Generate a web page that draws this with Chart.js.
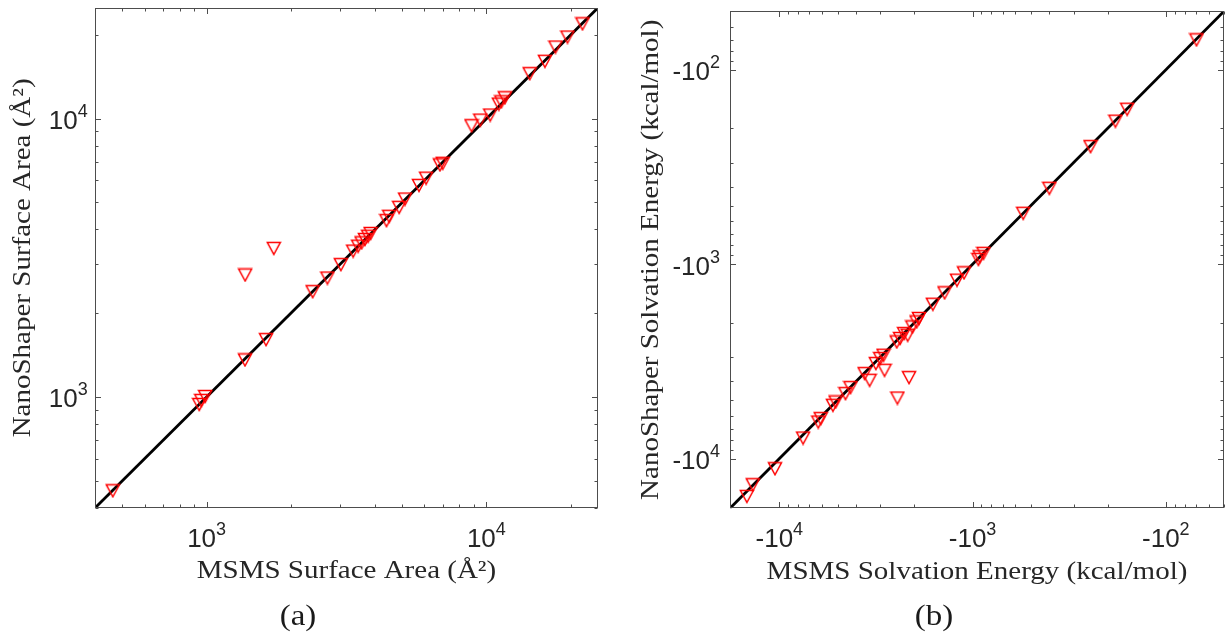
<!DOCTYPE html>
<html>
<head>
<meta charset="utf-8">
<title>MSMS vs NanoShaper</title>
<script src="https://cdn.jsdelivr.net/npm/chart.js@4.4.1/dist/chart.umd.min.js"></script>
<style>
  html, body { margin: 0; padding: 0; background: #ffffff; overflow: hidden; }
  #wrap { position: relative; width: 1225px; height: 637px; overflow: hidden; }
  #wrap canvas { position: absolute; top: 0; }
  #chartA { left: 0; }
  #chartB { left: 612px; }
</style>
</head>
<body>
<div id="wrap">
  <canvas id="chartA" width="612" height="637"></canvas>
  <canvas id="chartB" width="620" height="637"></canvas>
</div>
<script>
// ---- (a) molecular surface area, Å^2 ----
const msmsArea = [462, 941, 957, 988, 1371, 1631, 1373, 1738, 2393, 2703, 3018, 3341,
  3481, 3580, 3679, 3780, 3856, 4395, 4495, 4877, 5120, 5741, 6088, 6822, 6980,
  8850, 9510, 10320, 11080, 11310, 11640, 14290, 16190, 17660, 19490, 22050];
const nanoArea = [460, 940, 972, 1004, 1359, 1608, 2744, 3419, 2391, 2676, 2991, 3344,
  3484, 3580, 3681, 3783, 3869, 4305, 4461, 4804, 5145, 5759, 6115, 6828, 6918,
  9440, 9890, 10310, 11290, 11500, 11890, 14520, 16090, 18100, 19660, 21930];
const areaTicks = [1e3, 1e4];
const areaRange = [400, 25000];

// ---- (b) solvation energy, kcal/mol ----
const msmsEnergy = [-69.4, -158.5, -182.3, -245.3, -400.7, -547, -878, -919, -933,
  -1107, -1204, -1396, -1605, -1894, -1949, -2050, -2168, -2262, -2371, -2469,
  -2889, -3005, -3166, -2856, -3618, -3411, -2133, -2449, -4284, -4546, -5117,
  -5283, -6109, -6285, -7535, -10530, -13720, -14730];
const nanoEnergy = [-70.1, -159.4, -183.7, -248.3, -406.7, -547, -879, -915, -944,
  -1107, -1207, -1403, -1605, -1900, -1979, -2100, -2317, -2271, -2409, -2508,
  -2938, -3054, -3242, -3510, -3650, -3952, -3827, -4875, -4308, -4627, -5111,
  -5315, -6223, -6479, -7832, -11260, -13610, -15640];
const energyTicks = [-1e4, -1e3, -1e2];
const energyRange = [-18000, -50];

// ---- styling ----
const AXIS_COLOR = '#4d4d4d';
const LABEL_COLOR = '#262626';
const SANS = '"Liberation Sans", Arial, Helvetica, sans-serif';
const SERIF = '"Liberation Serif", "Times New Roman", serif';
const TICK_FONT = 26, SUP_FONT = 18, SUP_RISE = 12;
const TITLE_FONT = 25, TITLE_STRETCH = 1.16;
const CAPTION_FONT = 30, CAPTION_STRETCH = 1.1;

Chart.defaults.animation = false;
Chart.defaults.events = [];

function triangleMarker(color) {
  const c = document.createElement('canvas');
  c.width = 16; c.height = 15;
  const g = c.getContext('2d');
  g.strokeStyle = color;
  g.lineWidth = 1.5;
  g.lineJoin = 'miter';
  g.beginPath();
  g.moveTo(1.5, 1.5);
  g.lineTo(14.5, 1.5);
  g.lineTo(8, 13.5);
  g.closePath();
  g.stroke();
  return c;
}
const marker = triangleMarker('#ff0000');

// base-10 power label such as 10^3 or -10^2
function powerLabel(ctx, value, x, y, align) {
  const sign = value < 0 ? '-' : '';
  const base = sign + '10';
  const exp = String(Math.round(Math.log10(Math.abs(value))));
  const baseFont = TICK_FONT + 'px ' + SANS;
  const supFont = SUP_FONT + 'px ' + SANS;
  ctx.font = baseFont;
  const wb = ctx.measureText(base).width;
  ctx.font = supFont;
  const we = ctx.measureText(exp).width;
  const total = wb + we;
  const start = align === 'center' ? x - total / 2 : x - total;
  ctx.textAlign = 'left';
  ctx.textBaseline = 'alphabetic';
  ctx.fillStyle = LABEL_COLOR;
  ctx.font = baseFont;
  ctx.fillText(base, start, y);
  ctx.font = supFont;
  ctx.fillText(exp, start + wb, y - SUP_RISE);
}

function serifText(ctx, text, x, y, size, stretch, angle, color) {
  ctx.save();
  ctx.translate(x, y);
  ctx.rotate(angle);
  ctx.scale(stretch, 1);
  ctx.font = size + 'px ' + SERIF;
  ctx.fillStyle = color;
  ctx.textAlign = 'center';
  ctx.textBaseline = 'alphabetic';
  ctx.fillText(text, 0, 0);
  ctx.restore();
}

// box, inward ticks on all four sides, power labels, titles and caption
function framePlugin(spec) {
  return {
    id: 'matlabFrame',
    afterDraw(chart) {
      const ctx = chart.ctx;
      const area = chart.chartArea;
      const xs = chart.scales.x, ys = chart.scales.y;
      const lo = Math.min(Math.abs(spec.range[0]), Math.abs(spec.range[1]));
      const hi = Math.max(Math.abs(spec.range[0]), Math.abs(spec.range[1]));
      const L = Math.round(area.left) + 0.5;
      const R = Math.round(area.right) - 0.5;
      const T = Math.round(area.top) + 0.5;
      const B = Math.round(area.bottom) - 0.5;
      ctx.save();
      ctx.strokeStyle = AXIS_COLOR;
      ctx.lineWidth = 1;
      ctx.strokeRect(L, T, R - L, B - T);
      ctx.beginPath();
      const d0 = Math.floor(Math.log10(lo)), d1 = Math.ceil(Math.log10(hi));
      for (let d = d0; d <= d1; d++) {
        for (let k = 1; k <= 9; k++) {
          const v = k * Math.pow(10, d);
          if (v < lo || v > hi) continue;
          const len = k === 1 ? 5.5 : 3;
          const px = Math.round(xs.getPixelForValue(v)) + 0.5;
          ctx.moveTo(px, B); ctx.lineTo(px, B - len);
          ctx.moveTo(px, T); ctx.lineTo(px, T + len);
          const py = Math.round(ys.getPixelForValue(v)) + 0.5;
          ctx.moveTo(L, py); ctx.lineTo(L + len, py);
          ctx.moveTo(R, py); ctx.lineTo(R - len, py);
        }
      }
      ctx.stroke();

      spec.ticks.forEach(t => {
        const px = xs.getPixelForValue(Math.abs(t));
        powerLabel(ctx, t, px, area.bottom + 39, 'center');
        const py = ys.getPixelForValue(Math.abs(t));
        powerLabel(ctx, t, area.left - spec.yLabelGap, py + 10.5, 'right');
      });

      const cx = (area.left + area.right) / 2;
      const cy = (area.top + area.bottom) / 2;
      serifText(ctx, spec.xTitle, cx, area.bottom + 70.5, TITLE_FONT, TITLE_STRETCH, 0, LABEL_COLOR);
      serifText(ctx, spec.yTitle, spec.yTitleX, cy, TITLE_FONT, TITLE_STRETCH, -Math.PI / 2, LABEL_COLOR);
      serifText(ctx, spec.caption, spec.captionX, 625, CAPTION_FONT, CAPTION_STRETCH, 0, '#1a1a1a');
      ctx.restore();
    }
  };
}

function makeChart(id, points, range, reverse, padding, spec) {
  const lo = Math.min(Math.abs(range[0]), Math.abs(range[1]));
  const hi = Math.max(Math.abs(range[0]), Math.abs(range[1]));
  return new Chart(document.getElementById(id), {
    type: 'scatter',
    data: {
      datasets: [
        {
          data: points,
          pointStyle: marker,
          pointRadius: 7,
          showLine: false
        },
        {
          data: [{ x: lo, y: lo }, { x: hi, y: hi }],
          showLine: true,
          borderColor: '#000000',
          borderWidth: 2.8,
          pointRadius: 0
        }
      ]
    },
    options: {
      responsive: false,
      devicePixelRatio: 1,
      layout: { padding: padding },
      plugins: { legend: { display: false }, tooltip: { enabled: false } },
      scales: {
        x: { type: 'logarithmic', min: lo, max: hi, reverse: reverse, display: false },
        y: { type: 'logarithmic', min: lo, max: hi, reverse: reverse, display: false }
      }
    },
    plugins: [framePlugin(spec)]
  });
}

const areaPoints = msmsArea.map((v, i) => ({ x: v, y: nanoArea[i] }));
makeChart('chartA', areaPoints, areaRange, false,
  { left: 95.3, top: 5.7, right: 14.3, bottom: 129.3 },
  {
    ticks: areaTicks, range: areaRange, yLabelGap: 7.5,
    xTitle: 'MSMS Surface Area (Å²)',
    yTitle: 'NanoShaper Surface Area (Å²)',
    yTitleX: 30,
    caption: '(a)', captionX: 298
  });

// energies are negative: plotted by magnitude on reversed log axes, labelled with their sign
const energyPoints = msmsEnergy.map((v, i) => ({ x: Math.abs(v), y: Math.abs(nanoEnergy[i]) }));
makeChart('chartB', energyPoints, energyRange, true,
  { left: 118, top: 11.3, right: 6, bottom: 128.7 },
  {
    ticks: energyTicks, range: energyRange, yLabelGap: 10,
    xTitle: 'MSMS Solvation Energy (kcal/mol)',
    yTitle: 'NanoShaper Solvation Energy (kcal/mol)',
    yTitleX: 46,
    caption: '(b)', captionX: 322
  });
</script>
</body>
</html>
